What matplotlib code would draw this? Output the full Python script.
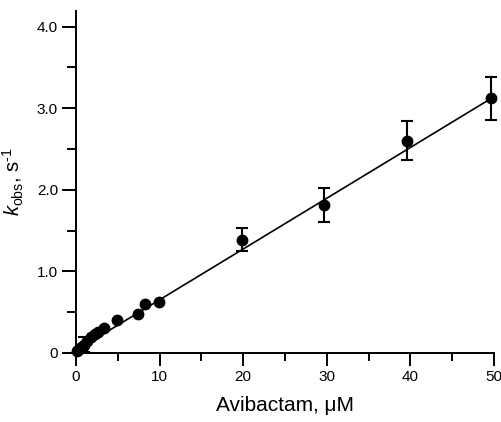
import matplotlib
matplotlib.use("Agg")
import matplotlib.pyplot as plt
import numpy as np
from matplotlib.ticker import MultipleLocator, FixedLocator

plt.rcParams['font.family'] = ['Liberation Sans', 'DejaVu Sans']
plt.rcParams['mathtext.fontset'] = 'custom'
plt.rcParams['mathtext.rm'] = 'Liberation Sans'
plt.rcParams['mathtext.it'] = 'Liberation Sans:italic'

# Data (Avibactam concentration in uM, kobs in s^-1)
conc = [0.1, 0.25, 0.5, 0.8, 1.0, 1.3, 1.8, 2.3, 2.6, 3.3, 4.9, 7.45, 8.25, 9.9, 19.8, 29.7, 39.6, 49.6]
kobs = [0.03, 0.04, 0.06, 0.08, 0.10, 0.15, 0.19, 0.23, 0.26, 0.31, 0.40, 0.48, 0.60, 0.62, 1.39, 1.81, 2.60, 3.12]
kerr = [0.0, 0.0, 0.0, 0.0, 0.09, 0.0, 0.0, 0.0, 0.0, 0.0, 0.0, 0.0, 0.0, 0.0, 0.14, 0.21, 0.24, 0.26]

fit_slope = 0.0622
fit_intercept = 0.03
fit_range = [0, 50]

xticks = [0, 10, 20, 30, 40, 50]
yticks = [0, 1, 2, 3, 4]
ytick_labels = ['0', '1.0', '2.0', '3.0', '4.0']

fig = plt.figure(figsize=(5.01, 4.22), dpi=100)
ax = fig.add_axes([76/501, 1 - 353/422, (494 - 76)/501, (353 - 11)/422])

xf = np.array(fit_range, dtype=float)
ax.plot(xf, fit_slope * xf + fit_intercept, color='black', lw=1.2, zorder=2)

c = np.array(conc); k = np.array(kobs); e = np.array(kerr)
has_err = e > 0
ax.errorbar(c[has_err], k[has_err], yerr=e[has_err], fmt='none', ecolor='black',
            elinewidth=1.5, capsize=4.5, capthick=1.5, zorder=3, clip_on=False)
ax.plot(c, k, 'o', color='black', ms=7.5, zorder=4, clip_on=False)

ax.set_xlim(0, 50)
ax.set_ylim(0, 4.19)

ax.spines['top'].set_visible(False)
ax.spines['right'].set_visible(False)
for s in ['left', 'bottom']:
    ax.spines[s].set_linewidth(1.4)

ax.xaxis.set_major_locator(FixedLocator(xticks))
ax.xaxis.set_minor_locator(MultipleLocator(5))
ax.yaxis.set_major_locator(FixedLocator(yticks))
ax.set_yticklabels(ytick_labels)
ax.yaxis.set_minor_locator(MultipleLocator(0.5))

ax.tick_params(axis='both', which='major', direction='out', width=1.4, labelsize=11)
ax.tick_params(axis='x', which='major', length=9, pad=3)
ax.tick_params(axis='x', which='minor', length=6, width=1.4)
ax.tick_params(axis='y', which='major', length=10, pad=3)
ax.tick_params(axis='y', which='minor', length=6.5, width=1.4)

ax.set_xlabel('Avibactam, μM', fontsize=15, labelpad=9)
ax.set_ylabel(r'$k_{\mathrm{obs}}$, s$^{\text{-1}}$', fontsize=14.5, labelpad=8)

fig.savefig('out.png', dpi=100)
